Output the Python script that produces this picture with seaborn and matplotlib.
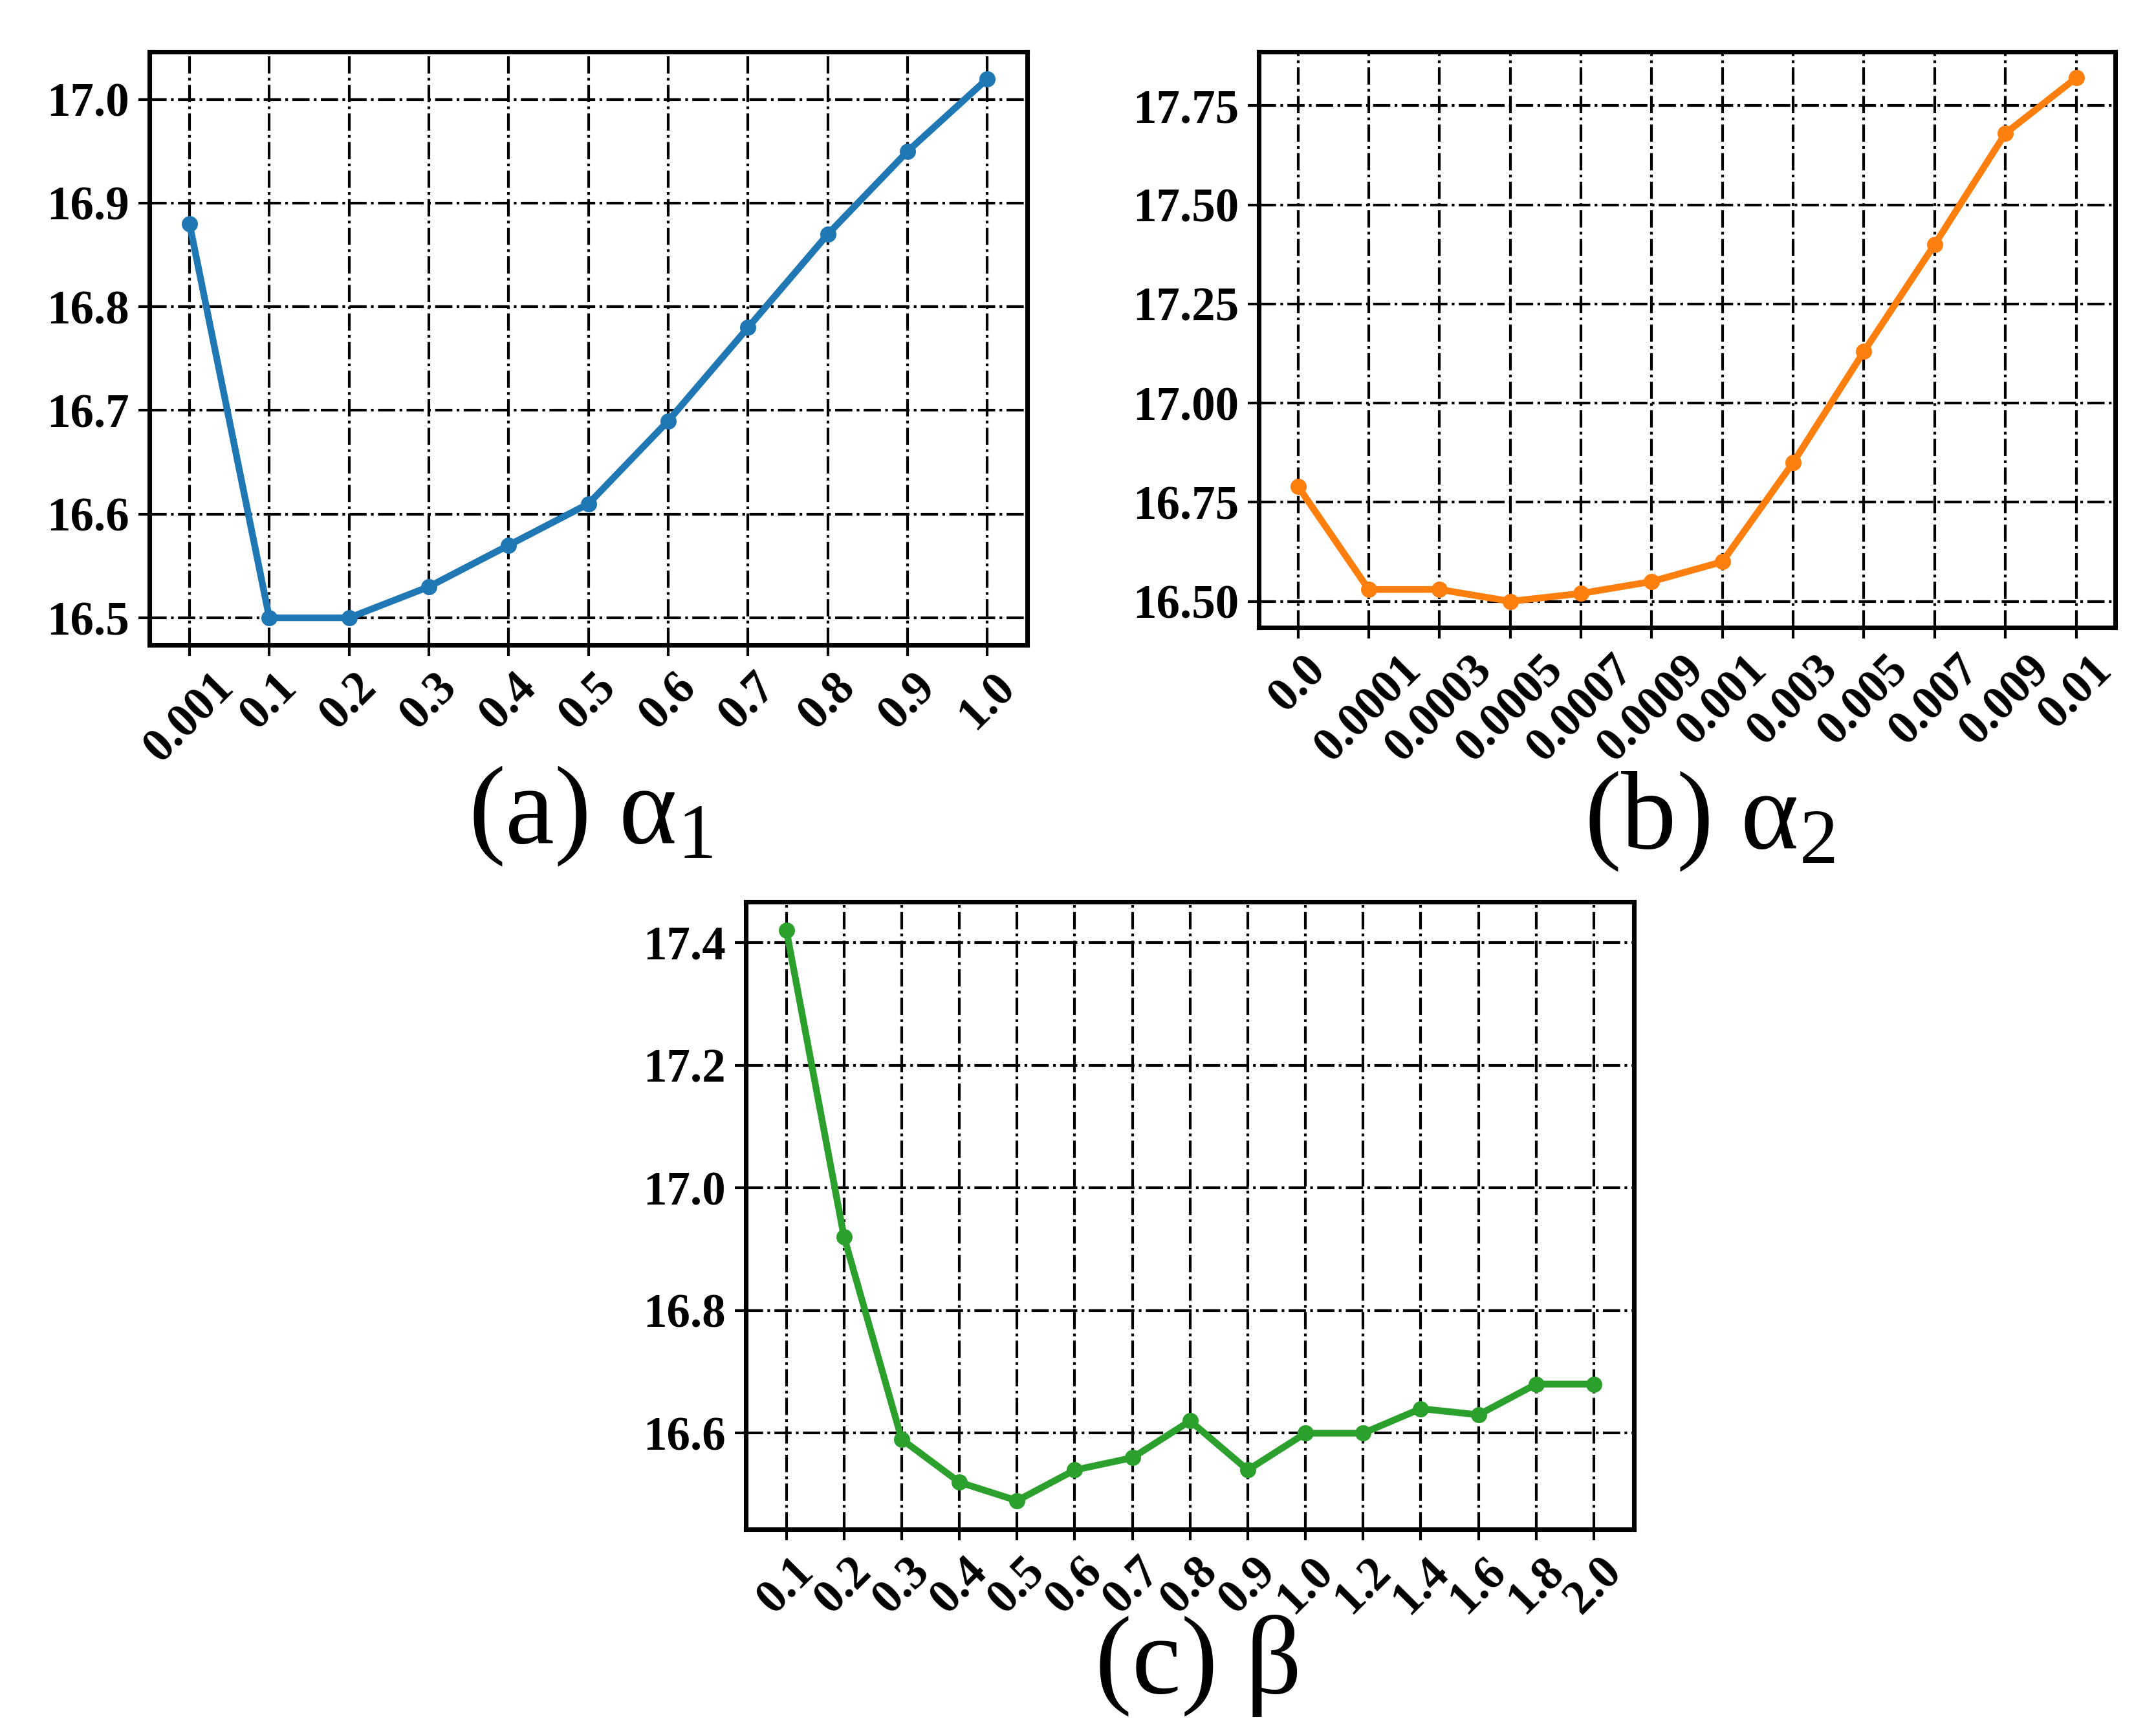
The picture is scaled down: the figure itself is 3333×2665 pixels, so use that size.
import numpy as np
import matplotlib
matplotlib.use('Agg')
import matplotlib.pyplot as plt
import seaborn as sns

# data
alpha1_labels = ['0.001', '0.1', '0.2', '0.3', '0.4', '0.5', '0.6', '0.7', '0.8', '0.9', '1.0']
alpha1_vals = [16.88, 16.50, 16.50, 16.53, 16.57, 16.61, 16.69, 16.78, 16.87, 16.95, 17.02]

alpha2_labels = ['0.0', '0.0001', '0.0003', '0.0005', '0.0007', '0.0009',
                 '0.001', '0.003', '0.005', '0.007', '0.009', '0.01']
alpha2_vals = [16.79, 16.53, 16.53, 16.50, 16.52, 16.55, 16.60, 16.85, 17.13, 17.40, 17.68, 17.82]

beta_labels = ['0.1', '0.2', '0.3', '0.4', '0.5', '0.6', '0.7', '0.8', '0.9',
               '1.0', '1.2', '1.4', '1.6', '1.8', '2.0']
beta_vals = [17.42, 16.92, 16.59, 16.52, 16.49, 16.54, 16.56, 16.62, 16.54,
             16.60, 16.60, 16.64, 16.63, 16.68, 16.68]

a2_ticks = [16.50, 16.75, 17.00, 17.25, 17.50, 17.75]
b_ticks = [16.6, 16.8, 17.0, 17.2, 17.4]

sns.set_style('ticks')
plt.rcParams['font.family'] = ['Liberation Serif', 'DejaVu Serif']
plt.rcParams['mathtext.fontset'] = 'custom'
plt.rcParams['mathtext.rm'] = 'Liberation Serif'
plt.rcParams['mathtext.it'] = 'Liberation Serif:italic'
plt.rcParams['mathtext.bf'] = 'Liberation Serif:bold'
for k in ['text.color', 'axes.labelcolor', 'xtick.color', 'ytick.color', 'axes.edgecolor']:
    plt.rcParams[k] = 'black'

colors = ['#1f77b4', '#ff7f0e', '#2ca02c']

fig = plt.figure(figsize=(3333 / 300, 2665 / 300), dpi=300)
ax1 = fig.add_axes([0.0694, 0.626, 0.4071, 0.344])
ax2 = fig.add_axes([0.584, 0.636, 0.397, 0.334])
ax3 = fig.add_axes([0.346, 0.113, 0.412, 0.364])

panels = [
    (ax1, alpha1_labels, alpha1_vals, colors[0]),
    (ax2, alpha2_labels, alpha2_vals, colors[1]),
    (ax3, beta_labels, beta_vals, colors[2]),
]

for ax, labels, vals, c in panels:
    sns.lineplot(x=labels, y=vals, ax=ax, color=c, marker='o', markersize=6,
                 markeredgewidth=0, linewidth=2.5, sort=False)
    ax.grid(True, linestyle='-.', color='k', linewidth=1.0)
    ax.set_axisbelow(True)
    for sp in ax.spines.values():
        sp.set_visible(True)
        sp.set_color('k')
        sp.set_linewidth(1.7)
    ax.tick_params(axis='both', colors='k', length=4, width=1.0, labelsize=17.5)
    plt.setp(ax.get_xticklabels(), rotation=45, fontweight='bold')
    plt.setp(ax.get_yticklabels(), fontweight='bold')
    ax.set_xlabel('')
    ax.set_ylabel('')

ax2.set_yticks(a2_ticks)
ax2.set_yticklabels([f'{t:.2f}' for t in a2_ticks], fontweight='bold')
ax3.set_yticks(b_ticks)
ax3.set_yticklabels([f'{t:.1f}' for t in b_ticks], fontweight='bold')

fig.text(0.274, 0.511, '(a) α$_{1}$', fontsize=41, ha='center', va='baseline')
fig.text(0.793, 0.508, '(b) α$_{2}$', fontsize=41, ha='center', va='baseline')
fig.text(0.556, 0.018, '(c) β', fontsize=41, ha='center', va='baseline')

fig.savefig('out.png', dpi=300)
